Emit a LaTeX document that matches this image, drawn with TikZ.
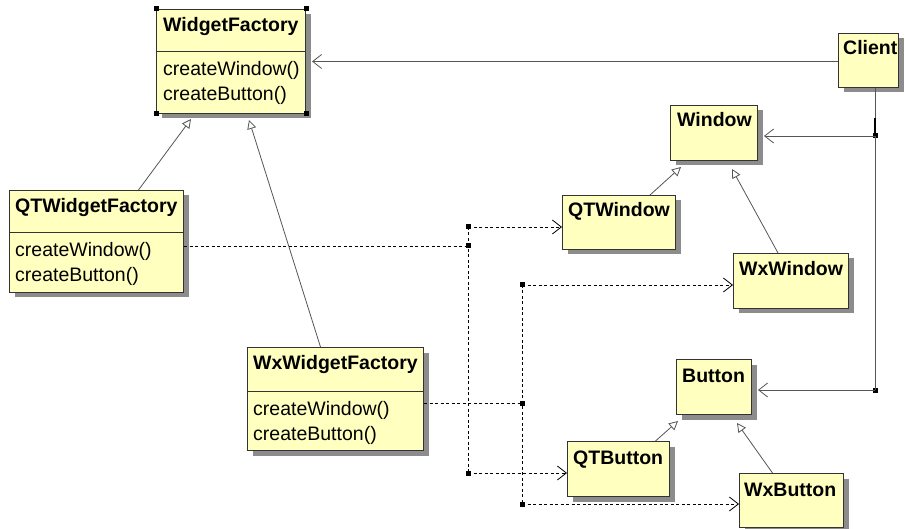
\documentclass[tikz,border=0pt]{standalone}
\usepackage{fontspec}
\setmainfont{Liberation Sans}
\usetikzlibrary{arrows.meta,shadows}
\definecolor{boxfill}{HTML}{FFFFC0}
\definecolor{boxline}{HTML}{333333}
\definecolor{shade}{HTML}{8C8C8C}
\definecolor{wire}{HTML}{555555}
\tikzset{
  cls/.style={draw=boxline, fill=boxfill, line width=1pt, inner sep=0pt, anchor=north west,
    drop shadow={shadow xshift=5pt, shadow yshift=-5pt, fill=shade, opacity=1}},
  ttl/.style={anchor=base west, inner sep=0pt, font=\bfseries\fontsize{19.5}{23}\selectfont},
  ops/.style={anchor=base west, inner sep=0pt, font=\fontsize{19.5}{23}\selectfont},
  junc/.style={fill=black, inner sep=0pt, minimum size=5pt},
  assoc/.style={draw=wire, line width=0.8pt, -{Straight Barb[length=9pt,width=14pt]}},
  gen/.style={draw=wire, line width=0.8pt, -{Triangle[length=9pt,width=9pt,fill=white]}},
  dep/.style={draw=black, line width=0.8pt, dash pattern=on 3pt off 2.5pt},
  dependency/.style={dep, -{Straight Barb[length=9pt,width=14pt]}},
}
\begin{document}
\begin{tikzpicture}[x=1pt,y=-1pt]
  \useasboundingbox (0,0) rectangle (905,529);

  % factories
  \node[cls, minimum width=149pt, minimum height=104pt] (wf) at (156,9) {};
  \draw[draw=boxline, line width=1pt] ([yshift=-43pt]wf.north west) -- ([yshift=-43pt]wf.north east);
  \node[ttl] (wf-t) at ([shift={(7,23)}]wf.north west) {WidgetFactory};
  \node[ops] (wf-m1) at ([shift={(7,67)}]wf.north west) {createWindow()};
  \node[ops] (wf-m2) at ([shift={(7,92)}]wf.north west) {createButton()};
  \foreach \c in {north west,north east,south west,south east}
    \node[junc] at (wf.\c) {};

  \node[cls, minimum width=174pt, minimum height=102pt] (qtwf) at (9,190) {};
  \draw[draw=boxline, line width=1pt] ([yshift=-43pt]qtwf.north west) -- ([yshift=-43pt]qtwf.north east);
  \node[ttl] (qtwf-t) at ([shift={(6,23)}]qtwf.north west) {QTWidgetFactory};
  \node[ops] (qtwf-m1) at ([shift={(6,67)}]qtwf.north west) {createWindow()};
  \node[ops] (qtwf-m2) at ([shift={(6,92)}]qtwf.north west) {createButton()};

  \node[cls, minimum width=176pt, minimum height=103pt] (wxwf) at (247,347) {};
  \draw[draw=boxline, line width=1pt] ([yshift=-44pt]wxwf.north west) -- ([yshift=-44pt]wxwf.north east);
  \node[ttl] (wxwf-t) at ([shift={(6,23)}]wxwf.north west) {WxWidgetFactory};
  \node[ops] (wxwf-m1) at ([shift={(6,68)}]wxwf.north west) {createWindow()};
  \node[ops] (wxwf-m2) at ([shift={(6,93)}]wxwf.north west) {createButton()};

  % client
  \node[cls, minimum width=60pt, minimum height=54pt] (client) at (838,33) {};
  \node[ttl] (client-t) at ([shift={(5,22)}]client.north west) {Client};

  % products
  \node[cls, minimum width=87pt, minimum height=55pt] (win) at (670,105) {};
  \node[ttl] (win-t) at ([shift={(7,22)}]win.north west) {Window};
  \node[cls, minimum width=113pt, minimum height=54pt] (qtwin) at (562,195) {};
  \node[ttl] (qtwin-t) at ([shift={(6,22)}]qtwin.north west) {QTWindow};
  \node[cls, minimum width=115pt, minimum height=55pt] (wxwin) at (733,253) {};
  \node[ttl] (wxwin-t) at ([shift={(6,23)}]wxwin.north west) {WxWindow};

  \node[cls, minimum width=75pt, minimum height=55pt] (btn) at (676,359) {};
  \node[ttl] (btn-t) at ([shift={(6,23)}]btn.north west) {Button};
  \node[cls, minimum width=102pt, minimum height=55pt] (qtbtn) at (567,441) {};
  \node[ttl] (qtbtn-t) at ([shift={(6,23)}]qtbtn.north west) {QTButton};
  \node[cls, minimum width=104pt, minimum height=54pt] (wxbtn) at (739,473) {};
  \node[ttl] (wxbtn-t) at ([shift={(5,23)}]wxbtn.north west) {WxButton};

  % shadow edges the arrows end on
  \coordinate (wf-r) at ([xshift=6pt]wf.east);
  \coordinate (win-r) at ([xshift=6pt]win.east);
  \coordinate (btn-r) at ([xshift=6pt]btn.east);

  % junctions
  \node[junc] (jw) at (875,136) {};
  \node[junc] (jb) at (875,390) {};
  \node[junc] (j0) at (468,227) {};
  \node[junc] (j1) at (468,246) {};
  \node[junc] (j2) at (468,473) {};
  \node[junc] (j3) at (522,285) {};
  \node[junc] (j4) at (522,403) {};
  \node[junc] (j5) at (522,504) {};

  % client links
  \draw[assoc] (client.west |- wf-r) -- (wf-r);
  \draw[draw=wire, line width=0.8pt] (client.south -| jw) -- (jw.center) -- (jb.center);
  \draw[line width=1.8pt] ([yshift=18pt]jw.center) -- (jw.center);
  \draw[assoc] (jw.center) -- (jw -| win-r);
  \draw[assoc] (jb.center) -- (jb -| btn-r);

  % inheritance
  \draw[gen] ([xshift=42pt]qtwf.north) -- ([xshift=-40pt,yshift=-5pt]wf.south);
  \draw[gen] ([xshift=-15pt]wxwf.north) -- ([xshift=18pt,yshift=-6pt]wf.south);
  \draw[gen] ([xshift=31pt]qtwin.north) -- ([xshift=-33pt,yshift=-6pt]win.south);
  \draw[gen] ([xshift=-13pt]wxwin.north) -- ([xshift=18pt,yshift=-8pt]win.south);
  \draw[gen] ([xshift=37pt]qtbtn.north) -- ([xshift=-36pt,yshift=-6pt]btn.south);
  \draw[gen] ([xshift=-19pt]wxbtn.north) -- ([xshift=23pt,yshift=-8pt]btn.south);

  % creates
  \draw[dep] (qtwf.east |- j1) -- (j1.center);
  \draw[dep] (j0.center) -- (j2.center);
  \draw[dependency] (j0.center) -- (j0 -| qtwin.west);
  \draw[dependency] (j2.center) -- (j2 -| qtbtn.west);
  \draw[dep] (wxwf.east |- j4) -- (j4.center);
  \draw[dep] (j3.center) -- (j5.center);
  \draw[dependency] (j3.center) -- (j3 -| wxwin.west);
  \draw[dependency] (j5.center) -- (j5 -| wxbtn.west);
\end{tikzpicture}
\end{document}
